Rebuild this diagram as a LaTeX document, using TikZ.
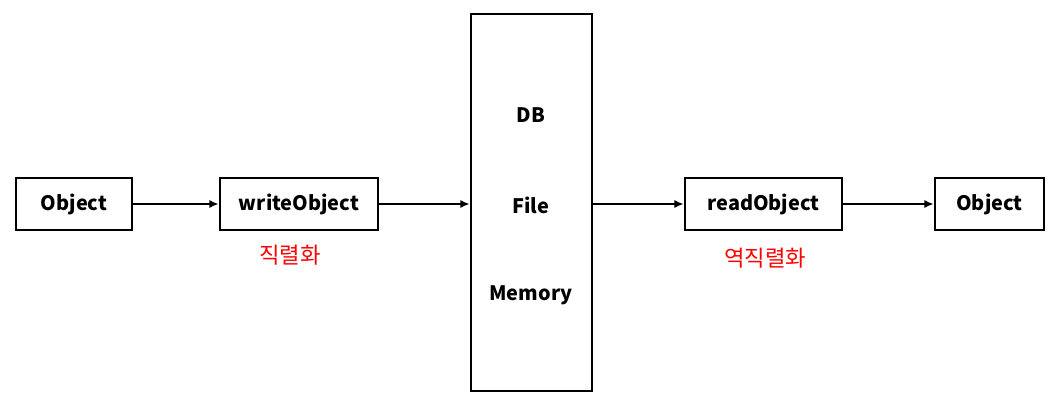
\documentclass[tikz,border=0pt]{standalone}
\usepackage{fontspec}
\setmainfont{Noto Sans CJK KR}
\usetikzlibrary{arrows.meta}
\begin{document}
\begin{tikzpicture}[x=0.03cm,y=-0.03cm,
  txt/.style={font=\bfseries\fontsize{17}{19}\selectfont},
  box/.style={draw,line width=2.2pt,inner sep=0pt,txt},
  arr/.style={line width=1.6pt,-{Latex[length=8pt,width=7pt]}},
  lab/.style={text=red,font=\fontsize{19}{21}\selectfont}]
\useasboundingbox (0,0) rectangle (1056,403);
\node[box,minimum width=116*0.03cm,minimum height=52*0.03cm] (o1) at (74,204) {Object};
\node[box,minimum width=158*0.03cm,minimum height=52*0.03cm] (w) at (299,204) {writeObject};
\node[box,minimum width=121*0.03cm,minimum height=377*0.03cm] (m) at (531.5,202.5) {};
\node[txt] (db) at (531,115) {DB};
\node[txt] (f) at (531,205) {File};
\node[txt] (me) at (531,295) {Memory};
\node[box,minimum width=157*0.03cm,minimum height=52*0.03cm] (r) at (763.5,204) {readObject};
\node[box,minimum width=109*0.03cm,minimum height=52*0.03cm] (o2) at (989.5,204) {Object};
\node[lab] (l1) at (290,255) {직렬화};
\node[lab] (l2) at (765,258) {역직렬화};
\draw[arr] (o1) -- (w);
\draw[arr] (w) -- (w-|m.west);
\draw[arr] (r-|m.east) -- (r);
\draw[arr] (r) -- (o2);
\end{tikzpicture}
\end{document}
